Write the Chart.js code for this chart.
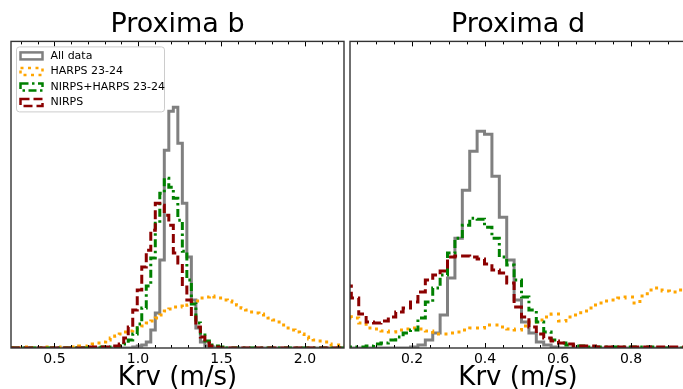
<!DOCTYPE html>
<html>
<head>
<meta charset="utf-8">
<script src="https://cdn.jsdelivr.net/npm/chart.js@4.4.1/dist/chart.umd.min.js"></script>
<style>
  html, body { margin: 0; padding: 0; background: #fff; overflow: hidden; }
  #wrap { position: relative; width: 683px; height: 389px; overflow: hidden; }
  .panel { position: absolute; top: 0; height: 389px; }
  #left { left: 0; width: 347px; }
  #right { left: 347px; width: 340px; }
</style>
</head>
<body>
<div id="wrap">
  <div class="panel" id="left"><canvas id="chartB" width="347" height="389"></canvas></div>
  <div class="panel" id="right"><canvas id="chartD" width="340" height="389"></canvas></div>
</div>
<script>
// Proxima b: histogram bins (first edge, width) and bin heights
const binStartB = 0.24;
const binWidthB = 0.027;
const allDataB = [
  0, 0, 0, 0, 0, 0, 0, 0, 0, 0,
  0, 0, 0, 0, 0, 0, 0, 0, 0, 0,
  0, 0, 0, 0, 0, 0, 0, 1, 2, 3,
  6, 18, 35, 88, 198, 237, 241, 205, 145, 91,
  48, 20, 6, 2, 1, 0, 0, 0, 0, 0,
  0, 0, 0, 0, 0, 0, 0, 0, 0, 0,
  0, 0, 0, 0, 0, 0, 0, 0, 0, 0,
  0, 0, 0, 0, 0
];
const harpsB = [
  0, 0, 0, 1, 0, 0, 0, 1, 0, 0,
  0, 1, 0, 1, 1, 2, 2, 3, 4, 5,
  6, 8, 10, 12, 14, 16, 17, 19, 20, 22,
  25, 27, 30, 33, 37, 39, 41, 42, 41, 43,
  45, 47, 50, 51, 52, 51, 50, 48, 47, 46,
  43, 40, 38, 36, 35, 34, 33, 30, 28, 26,
  23, 20, 18, 16, 14, 11, 9, 8, 7, 6,
  4, 3, 3, 2, 2
];
const nirpsHarpsB = [
  0, 0, 0, 0, 0, 0, 0, 0, 0, 0,
  0, 0, 0, 0, 0, 0, 0, 0, 0, 0,
  1, 1, 1, 1, 2, 4, 8, 14, 24, 40,
  62, 90, 125, 155, 170, 161, 150, 128, 97, 68,
  44, 25, 13, 7, 3, 2, 1, 0, 0, 0,
  0, 0, 0, 0, 0, 0, 0, 0, 0, 0,
  0, 0, 0, 0, 0, 0, 0, 0, 0, 0,
  0, 0, 0, 0, 0
];
const nirpsB = [
  0, 0, 0, 0, 0, 0, 0, 0, 0, 0,
  0, 0, 0, 0, 0, 0, 0, 1, 1, 1,
  1, 1, 1, 2, 4, 10, 21, 38, 58, 81,
  98, 118, 145, 143, 133, 123, 95, 85, 61, 48,
  31, 21, 11, 5, 2, 1, 0, 0, 0, 0,
  0, 0, 0, 0, 0, 0, 0, 0, 0, 0,
  0, 0, 0, 0, 0, 0, 0, 0, 0, 0,
  0, 0, 0, 0, 0
];

// Proxima d
const binStartD = 0.0134;
const binWidthD = 0.02027;
const allDataD = [
  0, 0, 0, 0, 0, 0, 0, 0, 0, 1,
  3, 8, 15, 33, 70, 110, 158, 197, 217, 214,
  172, 131, 88, 48, 26, 15, 6, 3, 1, 0,
  0, 0, 0, 0, 0, 0, 0, 0, 0, 0,
  0, 0, 0, 0, 0, 0, 0
];
const harpsD = [
  33, 30, 25, 20, 19, 17, 16, 18, 19, 20,
  19, 17, 14, 14, 15, 16, 18, 20, 20, 23,
  23, 21, 19, 18, 22, 26, 28, 31, 34, 27,
  31, 33, 37, 40, 45, 47, 48, 50, 51, 45,
  52, 58, 60, 57, 56, 58, 57
];
const nirpsHarpsD = [
  1, 1, 1, 2, 4, 5, 8, 11, 15, 18,
  30, 46, 60, 73, 95, 110, 123, 130, 129, 121,
  110, 91, 83, 68, 51, 38, 26, 16, 8, 5,
  3, 2, 2, 1, 1, 1, 1, 1, 1, 1,
  1, 1, 0, 0, 0, 0, 0
];
const nirpsD = [
  62, 50, 34, 26, 25, 27, 31, 36, 40, 46,
  56, 68, 73, 77, 91, 92, 92, 91, 89, 84,
  78, 75, 65, 41, 31, 21, 14, 10, 7, 5,
  4, 2, 2, 2, 1, 1, 1, 1, 1, 1,
  1, 1, 1, 1, 1, 1, 1
];

const ticksB = [0.5, 1.0, 1.5, 2.0];
const ticksD = [0.2, 0.4, 0.6, 0.8];

const FONT = '"DejaVu Sans", "Liberation Sans", sans-serif';

// histogram outline: rise at the first edge, one step per bin, drop at the last edge
function histPoints(start, width, heights) {
    const pts = [{ x: start, y: 0 }];
    heights.forEach((h, i) => pts.push({ x: start + i * width, y: h }));
    pts.push({ x: start + heights.length * width, y: 0 });
    return pts;
}

const styles = [
    { label: 'All data', color: '#808080', dash: [], width: 3, order: 4 },
    { label: 'HARPS 23-24', color: '#ffa500', dash: [3, 4.5], width: 3, order: 3 },
    { label: 'NIRPS+HARPS 23-24', color: '#008000', dash: [8, 3.5, 2.5, 3.5], width: 3, order: 2 },
    { label: 'NIRPS', color: '#8b0000', dash: [9, 4], width: 3, order: 1 }
];

// box, inward ticks on top and bottom
const frame = {
    id: 'frame',
    afterDatasetsDraw(chart, args, opts) {
        const { ctx, chartArea: a, scales: { x } } = chart;
        ctx.save();
        ctx.strokeStyle = '#000';
        ctx.lineWidth = 1;
        const first = Math.ceil(x.min / opts.minorStep - 1e-6);
        const last = Math.floor(x.max / opts.minorStep + 1e-6);
        for (let i = first; i <= last; i++) {
            const v = i * opts.minorStep;
            const ratio = v / opts.majorStep;
            const major = Math.abs(ratio - Math.round(ratio)) < 1e-6;
            const len = major ? 5 : 3;
            const px = Math.round(x.getPixelForValue(v)) + 0.5;
            ctx.beginPath();
            ctx.moveTo(px, a.bottom);
            ctx.lineTo(px, a.bottom - len);
            ctx.moveTo(px, a.top);
            ctx.lineTo(px, a.top + len);
            ctx.stroke();
        }
        ctx.strokeStyle = '#333';
        ctx.lineWidth = 1.4;
        ctx.strokeRect(a.left, a.top, a.right - a.left, a.bottom - a.top);
        ctx.restore();
    }
};

const legendBox = {
    id: 'legendBox',
    afterDraw(chart) {
        const { ctx, chartArea: a } = chart;
        const x0 = a.left + 5.5, y0 = a.top + 5.5;
        ctx.save();
        ctx.fillStyle = 'rgba(255,255,255,0.8)';
        ctx.strokeStyle = '#cccccc';
        ctx.lineWidth = 1;
        ctx.beginPath();
        ctx.roundRect(x0, y0, 148, 65, 3);
        ctx.fill();
        ctx.stroke();
        ctx.font = '11px ' + FONT;
        ctx.textBaseline = 'middle';
        chart.data.datasets.forEach((ds, i) => {
            const cy = y0 + 9 + i * 15.5;
            ctx.strokeStyle = ds.borderColor;
            ctx.lineWidth = 2.5;
            ctx.setLineDash(ds.borderDash);
            ctx.strokeRect(x0 + 4, cy - 3.5, 22, 7);
            ctx.setLineDash([]);
            ctx.fillStyle = '#000';
            ctx.fillText(ds.label, x0 + 34, cy);
        });
        ctx.restore();
    }
};

function makeChart(id, title, series, start, width, xMin, xMax, ticks, minorStep, pad, withLegend) {
    const datasets = series.map((heights, i) => ({
        label: styles[i].label,
        data: histPoints(start, width, heights),
        borderColor: styles[i].color,
        borderWidth: styles[i].width,
        borderDash: styles[i].dash,
        borderJoinStyle: 'miter',
        stepped: true,
        pointRadius: 0,
        fill: false,
        order: styles[i].order
    }));
    return new Chart(document.getElementById(id), {
        type: 'line',
        data: { datasets: datasets },
        plugins: withLegend ? [frame, legendBox] : [frame],
        options: {
            responsive: false,
            animation: false,
            devicePixelRatio: 1,
            layout: { padding: pad },
            scales: {
                x: {
                    type: 'linear',
                    min: xMin,
                    max: xMax,
                    grid: { display: false, drawTicks: false },
                    border: { display: false },
                    afterBuildTicks: (scale) => { scale.ticks = ticks.map(v => ({ value: v })); },
                    afterFit: (scale) => { scale.height = 41; },
                    ticks: {
                        autoSkip: false,
                        maxRotation: 0,
                        padding: 3,
                        color: '#000',
                        font: { family: FONT, size: 14 },
                        callback: (v) => Number(v).toFixed(1)
                    },
                    title: {
                        display: true,
                        text: 'Krv (m/s)',
                        color: '#000',
                        font: { family: FONT, size: 26, lineHeight: 0.85 },
                        padding: { top: 0, bottom: 0 }
                    }
                },
                y: { min: 0, max: 307, display: false }
            },
            plugins: {
                legend: { display: false },
                tooltip: { enabled: false },
                title: {
                    display: true,
                    text: title,
                    color: '#000',
                    font: { family: FONT, size: 27, weight: 'normal' },
                    padding: { top: 9, bottom: 0 }
                },
                frame: { minorStep: minorStep, majorStep: ticks[1] - ticks[0] }
            }
        }
    });
}

makeChart('chartB', 'Proxima b', [allDataB, harpsB, nirpsHarpsB, nirpsB],
    binStartB, binWidthB, 0.24, 2.234, ticksB, 0.1, { left: 11, right: 3, top: 0, bottom: 0 }, true);
makeChart('chartD', 'Proxima d', [allDataD, harpsD, nirpsHarpsD, nirpsD],
    binStartD, binWidthD, 0.03, 0.9505, ticksD, 0.05, { left: 3, right: 1, top: 0, bottom: 0 }, false);
</script>
</body>
</html>
